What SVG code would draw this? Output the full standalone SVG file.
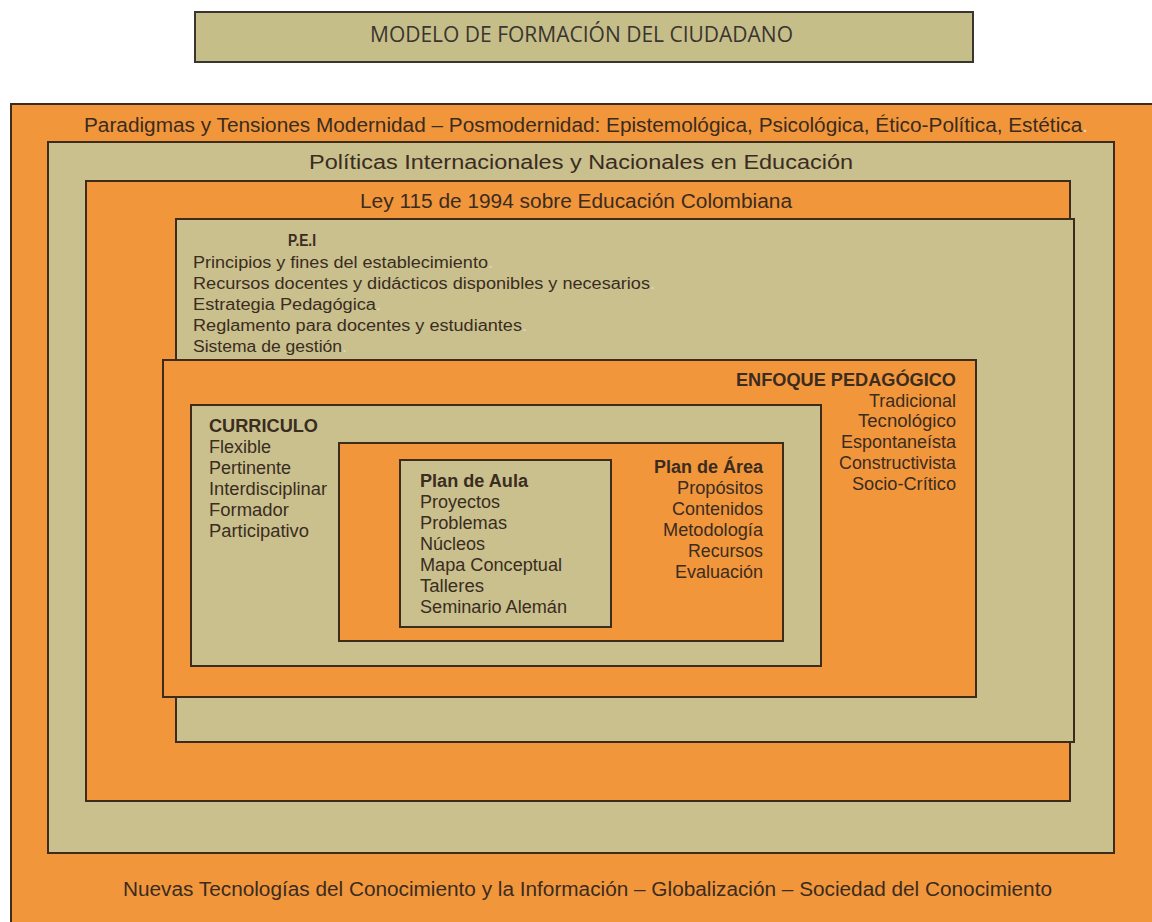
<svg xmlns="http://www.w3.org/2000/svg" width="1152" height="922" viewBox="0 0 1152 922">
<style>
.bg{fill:#ffffff}
.or{fill:#F2963C;stroke:#3d2b1c;stroke-width:2}
.kh{fill:#C9C08D;stroke:#3d2b1c;stroke-width:2}
.t{font-family:"Liberation Sans",Arial,sans-serif;fill:#3a2c1f}
.b{font-weight:bold}
.f19{font-size:19.5px}
.f17{font-size:17.5px}
.f16{font-size:16px}
.dot{fill:#e2dac4}
.ttl{font-family:"Open Sans","Liberation Sans",sans-serif;font-size:21px;fill:#3a3530}
</style>
<rect class="bg" x="0" y="0" width="1152" height="922"/>
<g id="title">
<rect x="195" y="12" width="778" height="50" fill="#C6BE88" stroke="#3a3530" stroke-width="2"/>
<text class="ttl" x="370" y="42" textLength="423" lengthAdjust="spacingAndGlyphs">MODELO DE FORMACIÓN DEL CIUDADANO</text>
</g>
<g id="paradigmas">
<rect class="or" x="11" y="104" width="1150" height="830"/>
<text class="t f19" x="84" y="132" textLength="1004" lengthAdjust="spacingAndGlyphs">Paradigmas y Tensiones Modernidad – Posmodernidad: Epistemológica, Psicológica, Ético-Política, Estética<tspan class="dot">.</tspan></text>
<text class="t f19" x="123" y="896" textLength="929" lengthAdjust="spacingAndGlyphs">Nuevas Tecnologías del Conocimiento y la Información – Globalización – Sociedad del Conocimiento</text>
</g>
<g id="politicas">
<rect class="kh" x="48" y="142" width="1066" height="711"/>
<text class="t f19" x="309" y="169" textLength="544" lengthAdjust="spacingAndGlyphs">Políticas Internacionales y Nacionales en Educación</text>
</g>
<g id="ley115">
<rect class="or" x="86" y="181" width="984" height="620"/>
<text class="t f19" x="360" y="208" textLength="432" lengthAdjust="spacingAndGlyphs">Ley 115 de 1994 sobre Educación Colombiana</text>
</g>
<g id="pei">
<rect class="kh" x="176" y="219" width="898" height="523"/>
<text class="t f16 b" x="288" y="246" textLength="28" lengthAdjust="spacingAndGlyphs">P.E.I</text>
<text class="t f16" x="193" y="268" textLength="300" lengthAdjust="spacingAndGlyphs">Principios y fines del establecimiento<tspan class="dot">.</tspan></text>
<text class="t f16" x="193" y="289" textLength="462" lengthAdjust="spacingAndGlyphs">Recursos docentes y didácticos disponibles y necesarios<tspan class="dot">.</tspan></text>
<text class="t f16" x="193" y="310" textLength="188" lengthAdjust="spacingAndGlyphs">Estrategia Pedagógica<tspan class="dot">.</tspan></text>
<text class="t f16" x="193" y="331" textLength="334" lengthAdjust="spacingAndGlyphs">Reglamento para docentes y estudiantes<tspan class="dot">.</tspan></text>
<text class="t f16" x="193" y="352" textLength="154" lengthAdjust="spacingAndGlyphs">Sistema de gestión<tspan class="dot">.</tspan></text>
</g>
<g id="enfoque">
<rect class="or" x="163" y="360" width="813" height="337"/>
<g text-anchor="end">
<text class="t f17 b" x="956" y="386" textLength="220" lengthAdjust="spacingAndGlyphs">ENFOQUE PEDAGÓGICO</text>
<text class="t f17" x="956" y="407" textLength="87" lengthAdjust="spacingAndGlyphs">Tradicional</text>
<text class="t f17" x="956" y="427" textLength="98" lengthAdjust="spacingAndGlyphs">Tecnológico</text>
<text class="t f17" x="956" y="448" textLength="115" lengthAdjust="spacingAndGlyphs">Espontaneísta</text>
<text class="t f17" x="956" y="469" textLength="117" lengthAdjust="spacingAndGlyphs">Constructivista</text>
<text class="t f17" x="956" y="490" textLength="104" lengthAdjust="spacingAndGlyphs">Socio-Crítico</text>
</g>
</g>
<g id="curriculo">
<rect class="kh" x="191" y="405" width="630" height="261"/>
<text class="t f17 b" x="209" y="432" textLength="109" lengthAdjust="spacingAndGlyphs">CURRICULO</text>
<text class="t f17" x="209" y="453" textLength="62" lengthAdjust="spacingAndGlyphs">Flexible</text>
<text class="t f17" x="209" y="474" textLength="82" lengthAdjust="spacingAndGlyphs">Pertinente</text>
<text class="t f17" x="209" y="495" textLength="118" lengthAdjust="spacingAndGlyphs">Interdisciplinar</text>
<text class="t f17" x="209" y="516" textLength="80" lengthAdjust="spacingAndGlyphs">Formador</text>
<text class="t f17" x="209" y="537" textLength="100" lengthAdjust="spacingAndGlyphs">Participativo</text>
</g>
<g id="plan-area">
<rect class="or" x="339" y="443" width="444" height="198"/>
<g text-anchor="end">
<text class="t f17 b" x="763" y="473" textLength="109" lengthAdjust="spacingAndGlyphs">Plan de Área</text>
<text class="t f17" x="763" y="494" textLength="86" lengthAdjust="spacingAndGlyphs">Propósitos</text>
<text class="t f17" x="763" y="515" textLength="91" lengthAdjust="spacingAndGlyphs">Contenidos</text>
<text class="t f17" x="763" y="536" textLength="100" lengthAdjust="spacingAndGlyphs">Metodología</text>
<text class="t f17" x="763" y="557" textLength="75" lengthAdjust="spacingAndGlyphs">Recursos</text>
<text class="t f17" x="763" y="578" textLength="88" lengthAdjust="spacingAndGlyphs">Evaluación</text>
</g>
</g>
<g id="plan-aula">
<rect class="kh" x="400" y="460" width="211" height="167"/>
<text class="t f17 b" x="420" y="487" textLength="108" lengthAdjust="spacingAndGlyphs">Plan de Aula</text>
<text class="t f17" x="420" y="508" textLength="80" lengthAdjust="spacingAndGlyphs">Proyectos</text>
<text class="t f17" x="420" y="529" textLength="87" lengthAdjust="spacingAndGlyphs">Problemas</text>
<text class="t f17" x="420" y="550" textLength="65" lengthAdjust="spacingAndGlyphs">Núcleos</text>
<text class="t f17" x="420" y="571" textLength="142" lengthAdjust="spacingAndGlyphs">Mapa Conceptual</text>
<text class="t f17" x="420" y="592" textLength="64" lengthAdjust="spacingAndGlyphs">Talleres</text>
<text class="t f17" x="420" y="613" textLength="147" lengthAdjust="spacingAndGlyphs">Seminario Alemán</text>
</g>
<g id="connectors"/>
</svg>
